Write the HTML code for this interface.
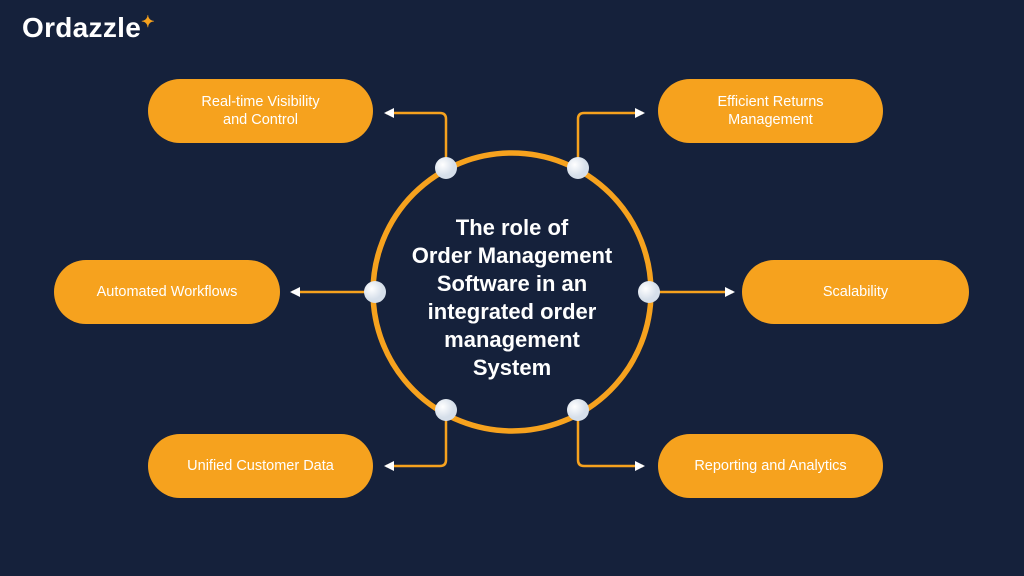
<!DOCTYPE html>
<html><head><meta charset="utf-8"><style>
body{margin:0;width:1024px;height:576px;background:#15213b;overflow:hidden;font-family:"Liberation Sans",sans-serif;position:relative}
.p{position:absolute;background:#f6a21e;border-radius:32px;color:#fff;font-size:14.5px;display:flex;align-items:center;justify-content:center;text-align:center;line-height:18px;height:64px;width:225px}
.logo{position:absolute;left:22px;top:12px;color:#fff;font-weight:bold;font-size:28px;letter-spacing:0.3px}
.c{position:absolute;left:362px;top:158px;width:300px;height:280px;display:flex;align-items:center;justify-content:center;text-align:center;color:#fff;font-weight:bold;font-size:22px;line-height:28px}
</style></head><body>
<div class="logo">Ordazzle<span style="color:#f6a21e;font-size:16px;vertical-align:top">✦</span></div>
<svg width="1024" height="576" style="position:absolute;left:0;top:0">
<defs><marker id="a" markerWidth="10" markerHeight="10" refX="8" refY="5" orient="auto" markerUnits="userSpaceOnUse"><path d="M0,0 L10,5 L0,10z" fill="#fff"/></marker>
<radialGradient id="g" cx="35%" cy="35%"><stop offset="0" stop-color="#fff"/><stop offset="1" stop-color="#d6dfea"/></radialGradient></defs>
<circle cx="512" cy="292" r="139" fill="none" stroke="#f6a21e" stroke-width="5.5"/>
<g fill="none" stroke="#f6a21e" stroke-width="2.5">
<path d="M446 160 V119 Q446 113 440 113 H386" marker-end="url(#a)"/>
<path d="M578 160 V119 Q578 113 584 113 H643" marker-end="url(#a)"/>
<path d="M375 292 H292" marker-end="url(#a)"/>
<path d="M649 292 H733" marker-end="url(#a)"/>
<path d="M446 418 V460 Q446 466 440 466 H386" marker-end="url(#a)"/>
<path d="M578 418 V460 Q578 466 584 466 H643" marker-end="url(#a)"/>
</g>
<g fill="url(#g)">
<circle cx="446" cy="168" r="11"/><circle cx="578" cy="168" r="11"/>
<circle cx="375" cy="292" r="11"/><circle cx="649" cy="292" r="11"/>
<circle cx="446" cy="410" r="11"/><circle cx="578" cy="410" r="11"/>
</g></svg>
<div class="c">The role of<br>Order Management<br>Software in an<br>integrated order<br>management<br>System</div>
<div class="p" style="left:148px;top:79px">Real-time Visibility<br>and Control</div>
<div class="p" style="left:658px;top:79px">Efficient Returns<br>Management</div>
<div class="p" style="left:54px;top:260px;width:226px">Automated Workflows</div>
<div class="p" style="left:742px;top:260px;width:227px">Scalability</div>
<div class="p" style="left:148px;top:434px">Unified Customer Data</div>
<div class="p" style="left:658px;top:434px">Reporting and Analytics</div>
</body></html>
